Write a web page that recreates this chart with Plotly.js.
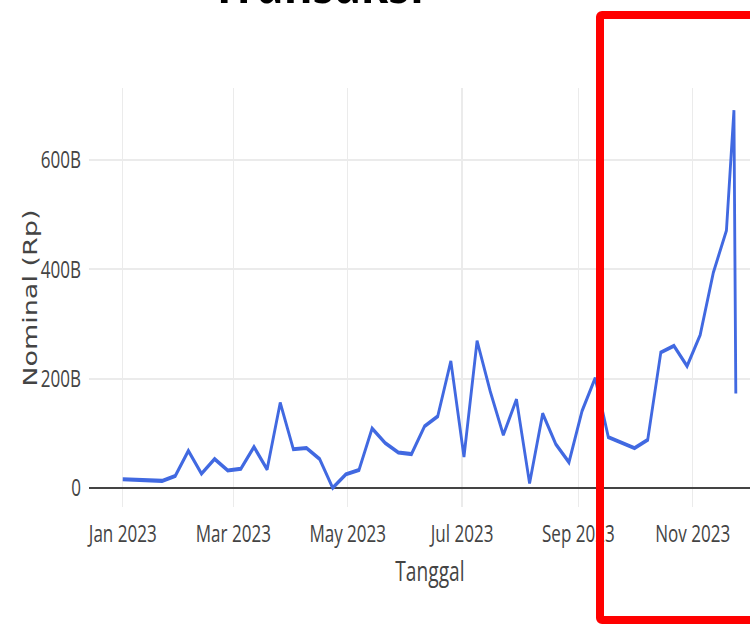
<!DOCTYPE html>
<html>
<head>
<meta charset="utf-8">
<script src="https://cdn.plot.ly/plotly-3.0.1.min.js"></script>
<style>
  html, body { margin: 0; padding: 0; background: #fff; overflow: hidden; }
  #wrap { position: relative; width: 750px; height: 624px; overflow: hidden; }
  #plot { position: absolute; left: 0; top: 0; width: 1100px; height: 624px;
          transform: scaleX(0.71); transform-origin: 0 0; }
  #highlight { position: absolute; left: 596px; top: 11px; width: 220px; height: 613px;
               box-sizing: border-box; border: 8px solid #ff0000; border-radius: 6px; pointer-events: none; }
</style>
</head>
<body>
<div id="wrap">
  <div id="plot"></div>
  <div id="highlight"></div>
</div>
<script>
// Weekly transaction totals (billion Rupiah)
const dates = [
  '2023-01-01','2023-01-22','2023-01-29','2023-02-05','2023-02-12','2023-02-19','2023-02-26',
  '2023-03-05','2023-03-12','2023-03-19','2023-03-26','2023-04-02','2023-04-09','2023-04-16',
  '2023-04-23','2023-04-30','2023-05-07','2023-05-14','2023-05-21','2023-05-28','2023-06-04',
  '2023-06-11','2023-06-18','2023-06-25','2023-07-02','2023-07-09','2023-07-16','2023-07-23',
  '2023-07-30','2023-08-06','2023-08-13','2023-08-20','2023-08-27','2023-09-03','2023-09-10',
  '2023-09-17','2023-10-01','2023-10-08','2023-10-15','2023-10-22','2023-10-29','2023-11-05',
  '2023-11-12','2023-11-19','2023-11-23','2023-11-24'
];
const nominalB = [
  16, 13, 22, 68, 26, 53, 32,
  35, 75, 34, 156, 71, 73, 53,
  0, 25, 33, 109, 82, 65, 62,
  113, 131, 232, 57, 269, 177, 97,
  162, 8.5, 136, 80, 47, 141, 201,
  93, 73, 88, 248, 260, 223, 280,
  394, 471, 691, 173
];
const yTickVals = [0, 200, 400, 600];
const yTickText = ['0', '200B', '400B', '600B'];
const titleText = 'Transaksi';
const xTitle = 'Tanggal';
const yTitle = 'Nominal (Rp)';

const nominal = nominalB.map(v => v * 1e9);

const trace = {
  type: 'scatter',
  mode: 'lines',
  x: dates,
  y: nominal,
  line: { color: '#4169e1', width: 4 },
  hoverinfo: 'skip'
};

const layout = {
  width: 1100,
  height: 624,
  margin: { l: 125, r: 14, t: 88, b: 117 },
  paper_bgcolor: '#ffffff',
  plot_bgcolor: '#ffffff',
  showlegend: false,
  font: { family: '"Open Sans", sans-serif', color: '#444', size: 24 },
  xaxis: {
    type: 'date',
    range: ['2022-12-13 20:53', '2023-12-12 19:12'],
    dtick: 'M2',
    tick0: '2023-01-01',
    tickformat: '%b %Y',
    showgrid: true,
    gridcolor: '#ebebeb',
    gridwidth: 2,
    zeroline: false,
    showline: false,
    ticks: '',
    ticklabelstandoff: 10,
    tickfont: { family: '"Open Sans", sans-serif', size: 24, color: '#444' },
    title: { text: xTitle, font: { family: '"Open Sans", sans-serif', size: 27, color: '#444' }, standoff: 14 }
  },
  yaxis: {
    range: [-34.8e9, 731.7e9],
    tickvals: yTickVals.map(v => v * 1e9),
    ticktext: yTickText,
    showgrid: true,
    gridcolor: '#ebebeb',
    gridwidth: 2,
    zeroline: true,
    zerolinecolor: '#444',
    zerolinewidth: 2,
    showline: false,
    ticks: '',
    ticklabelstandoff: 10,
    tickfont: { family: '"Open Sans", sans-serif', size: 24, color: '#444' }
  },
  annotations: [{
    text: '<b>' + titleText + '</b>',
    xref: 'paper', yref: 'paper',
    x: 0.3357, y: 1.155,
    xanchor: 'center', yanchor: 'bottom',
    showarrow: false,
    font: { family: '"Open Sans", sans-serif', size: 62, color: '#000000' }
  }, {
    text: yTitle,
    xref: 'paper', yref: 'paper',
    x: -0.0855, y: 0.499,
    xanchor: 'center', yanchor: 'middle',
    textangle: -90,
    showarrow: false,
    font: { family: '"DejaVu Sans", sans-serif', size: 27, color: '#444' }
  }]
};

Plotly.newPlot('plot', [trace], layout, { displayModeBar: false, staticPlot: true });
</script>
</body>
</html>
